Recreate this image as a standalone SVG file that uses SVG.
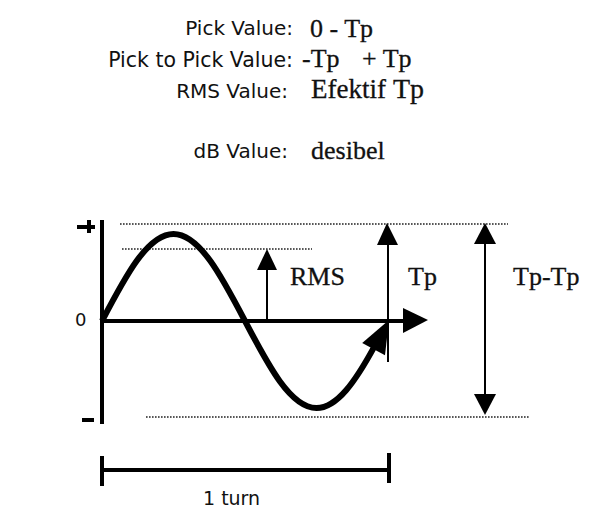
<svg xmlns="http://www.w3.org/2000/svg" width="600" height="521" viewBox="0 0 600 521">
<style>
.sans{font-family:"DejaVu Sans","Liberation Sans",sans-serif;fill:#111;}
.serif{font-family:"Liberation Serif","DejaVu Serif",serif;fill:#111;stroke:#111;stroke-width:0.3;}
.thick{stroke:#000;stroke-width:4;fill:none;}
.thin{stroke:#000;stroke-width:2;fill:none;}
.dot{stroke:#222;stroke-width:1.6;stroke-dasharray:1.6 1.4;fill:none;}
.head{fill:#000;stroke:none;}
</style>
<rect width="600" height="521" fill="#fff"/>
<g id="legend">
<text class="sans" x="293" y="35" font-size="20" text-anchor="end">Pick Value:</text>
<text class="serif" x="310" y="37" font-size="26">0 - Tp</text>
<text class="sans" x="293" y="67" font-size="20.5" text-anchor="end">Pick to Pick Value:</text>
<text class="serif" x="302" y="67" font-size="26">-Tp</text>
<text class="serif" x="362" y="67" font-size="26">+ Tp</text>
<text class="sans" x="288" y="98" font-size="20" text-anchor="end">RMS Value:</text>
<text class="serif" x="311" y="98" font-size="27">Efektif</text>
<text class="serif" x="393" y="98" font-size="28">Tp</text>
<text class="sans" x="288" y="158" font-size="20" text-anchor="end">dB Value:</text>
<text class="serif" x="311" y="159" font-size="26">desibel</text>
</g>
<g id="guides">
<line class="dot" x1="120" y1="224" x2="508" y2="224"/>
<line class="dot" x1="122" y1="249" x2="312" y2="249"/>
<line class="dot" x1="146" y1="417" x2="530" y2="417"/>
</g>
<g id="axes">
<line class="thick" x1="102" y1="220" x2="102" y2="424"/>
<line class="thick" x1="77" y1="227" x2="95" y2="227"/>
<line class="thick" x1="89" y1="220" x2="89" y2="233" stroke-width="3"/>
<line class="thick" x1="82" y1="420" x2="94" y2="420"/>
<text class="sans" x="75" y="326" font-size="18">0</text>
<line class="thick" x1="102" y1="321" x2="406" y2="321"/>
<polygon class="head" points="403,308 428,320 403,333"/>
</g>
<g id="sine">
<path d="M102,321 C125.3,276.4 147.6,234 173.5,234 C199.4,234 221.7,276.4 245,321 C268.3,365.6 290.6,408 316.5,408 C337.2,408 355.6,380.9 374.1,347.1" fill="none" stroke="#000" stroke-width="6"/>
<polygon class="head" points="389,320 385,355.3 362.2,342.9"/>
</g>
<g id="connectors">
<line class="thin" x1="267" y1="322" x2="267" y2="268"/>
<polygon class="head" points="267,249 257,270 277,270"/>
<line class="thin" x1="388" y1="362" x2="388" y2="243" stroke-width="2.5"/>
<polygon class="head" points="387,223 377,245 398,245"/>
<line class="thin" x1="485" y1="240" x2="485" y2="398"/>
<polygon class="head" points="485,223 474,244 496,244"/>
<polygon class="head" points="485,415 474,394 496,394"/>
</g>
<g id="labels">
<text class="serif" x="290" y="285" font-size="26">RMS</text>
<text class="serif" x="408" y="285" font-size="26">Tp</text>
<text class="serif" x="513" y="285" font-size="26">Tp-Tp</text>
</g>
<g id="turn">
<line class="thick" x1="102" y1="470" x2="389" y2="470"/>
<line class="thick" x1="102" y1="456" x2="102" y2="486"/>
<line class="thick" x1="389" y1="453" x2="389" y2="483"/>
<text class="sans" x="203" y="505" font-size="19">1 turn</text>
</g>
</svg>
